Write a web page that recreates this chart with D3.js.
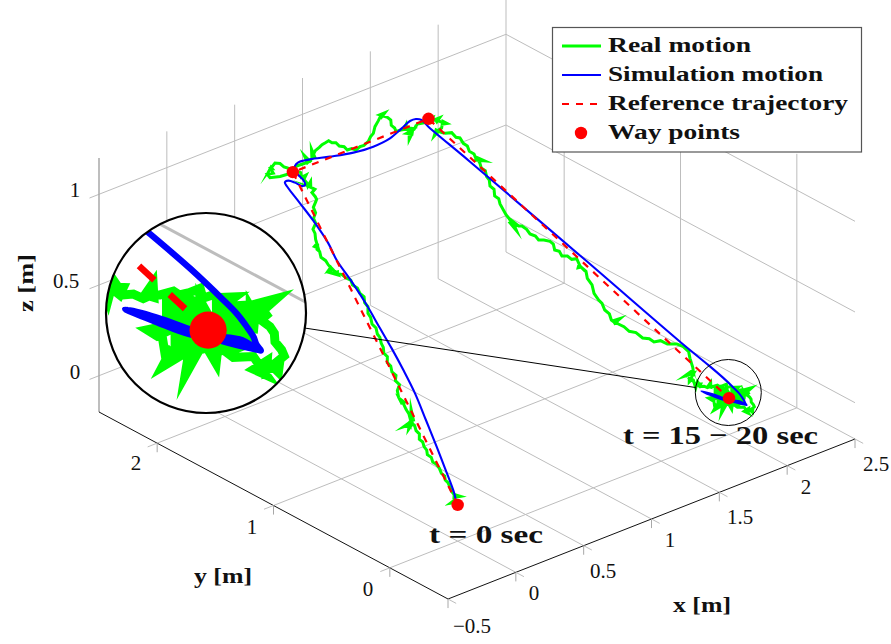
<!DOCTYPE html>
<html><head><meta charset="utf-8">
<script src="https://cdn.jsdelivr.net/npm/d3@7"></script>
<style>body{margin:0;background:#fff}svg{display:block}</style></head><body>
<script>
//tick values of the three axes (m)
var xTicks = [-0.5,0,0.5,1,1.5,2,2.5];
var yTicks = [0,1,2];
var zTicks = [0,0.5,1];
var xTickLabels = ["\u22120.5","0","0.5","1","1.5","2","2.5"];
var yTickLabels = ["0","1","2"];
var zTickLabels = ["0","0.5","1"];
var legendLabels = ["Real motion","Simulation motion","Reference trajectory","Way points"];

//way points, also the reference trajectory (m)
var wayX = [0,0.5,1.5,2];
var wayY = [0,2,2,0];
var wayZ = [0,1,1,0];

//real motion: x and y in mm, z in cm
var realX = [12,6,-32,4,12,14,50,24,21,35,34,44,44,37,54,60,47,49,39,59,
60,77,69,83,81,98,97,90,28,89,89,73,45,90,105,112,145,98,111,121,
128,141,122,116,127,146,189,188,204,199,213,210,244,241,257,266,279,280,308,294,
312,318,342,345,376,356,373,362,365,347,342,318,316,280,306,299,305,296,267,299,
303,297,289,300,307,330,323,304,321,337,353,362,407,423,462,466,507,515,530,519,
558,527,544,558,523,533,533,562,524,543,523,480,466,411,359,360,380,390,396,403,
370,424,456,461,483,507,532,570,606,648,660,681,636,704,713,761,696,766,809,842,
872,902,900,917,905,920,907,936,944,988,1015,1065,1112,1150,1210,1272,1319,1313,1363,1324,
1337,1330,1290,1283,1262,1293,1318,1322,1359,1313,1331,1320,1357,1341,1309,1305,1253,1312,1309,1292,
1355,1411,1435,1454,1484,1497,1507,1543,1501,1546,1540,1585,1537,1573,1560,1600,1585,1540,1501,1487,
1444,1501,1518,1528,1575,1585,1611,1597,1608,1603,1616,1601,1588,1649,1615,1610,1593,1603,1576,1575,
1545,1550,1529,1539,1517,1501,1500,1494,1482,1475,1505,1522,1536,1558,1550,1586,1582,1619,1649,1656,
1629,1652,1655,1693,1699,1740,1710,1714,1688,1721,1722,1701,1697,1668,1649,1666,1639,1656,1631,1641,
1634,1697,1634,1658,1675,1689,1736,1751,1788,1796,1849,1880,1949,1970,1982,1949,1918,1901,1908,1812,
1907,1848,1847,1816,1849,1863,1825,1883,1871,1892,1867,1857,1872,1903,1905,1935,1938,1960,1918,1953,
1982,1995,2029,2056,2048,2072,2080,2086,2127,2089,2097,2145,2163,2155,2210,2156,2166,2145,2140,2143,
2136,2124,2126,2094,2084,2075,2104,2062,2075,2033,2050,2055,2052,2007,1998,1968,1959,1952,1991,1962,
1922,1920,1862,1939,1871,1874,1824,1881,1855,1889,1882,1895,1857,1869,1908,1963,1975,1895,1907,2010,
2013,1929,1945,2039,2026,1967,1993,2077,2086,2005,2031,2098,2124,2047,2068,2136,2135,2099];
var realY = [28,26,25,13,45,48,35,59,73,106,123,158,163,183,220,256,269,284,306,335,
359,390,410,426,452,483,508,506,499,494,505,498,474,494,515,511,570,519,548,585,
617,621,644,612,656,689,720,755,768,797,824,850,889,915,939,967,994,1017,1061,1079,
1112,1142,1170,1202,1243,1255,1297,1326,1345,1364,1393,1405,1402,1414,1392,1417,1438,1436,1426,1424,
1465,1481,1512,1536,1567,1588,1586,1586,1573,1614,1638,1666,1695,1732,1760,1784,1811,1813,1842,1858,
1878,1889,1897,1915,1898,1919,1943,1959,1954,1983,1993,1987,1999,2006,2032,2056,2028,2062,2056,2075,
2051,2065,2059,2031,2019,2018,2033,2043,2039,2036,2039,2113,2033,2062,2060,2144,2065,2117,2133,2148,
2154,2161,2130,2116,2073,2049,2006,2003,1975,1991,1989,2010,2045,2066,2122,2165,2200,2186,2215,2214,
2163,2126,2075,2038,2002,1997,1987,1979,2028,1994,1976,1961,1965,1990,1930,1939,1878,1922,1919,1945,
1955,1992,1983,1977,1983,1983,1986,2014,1997,1989,1975,2003,1986,1963,1950,1957,1976,1934,1925,1920,
1886,1914,1908,1888,1888,1863,1859,1814,1792,1769,1744,1710,1698,1692,1722,1686,1655,1632,1589,1565,
1524,1495,1465,1442,1405,1335,1311,1281,1279,1214,1283,1251,1239,1224,1186,1181,1149,1147,1129,1109,
1066,1053,1034,1031,1001,1006,943,957,933,946,905,869,824,773,711,702,647,627,581,570,
555,580,568,552,524,495,492,452,438,407,412,390,390,358,326,276,216,191,206,164,
193,152,163,127,142,147,82,135,107,117,98,104,94,101,75,93,83,111,85,83,
78,76,88,88,71,69,55,57,70,70,46,40,41,26,48,39,26,18,-14,-23,
-33,-66,-71,-83,-82,-114,-84,-95,-82,-92,-109,-79,-69,-64,-46,-63,-51,-79,-38,-36,
-48,-39,-95,-41,-51,-38,-74,-48,-47,2,5,18,8,-7,12,76,66,-28,-38,83,
63,-36,-41,69,30,-40,-33,66,52,-43,-36,42,49,-41,-41,38,23,-14];
var realZ = [1,2,1,1,3,2,2,3,4,5,7,7,9,10,11,12,13,15,16,17,
18,19,20,22,23,24,25,26,25,25,25,26,24,25,26,26,29,26,28,29,
31,31,33,31,33,35,36,37,39,40,42,43,44,45,47,48,50,51,52,54,
56,57,59,60,61,63,64,65,67,68,69,70,71,71,70,72,72,73,72,72,
73,75,76,78,78,79,80,79,78,81,83,84,85,86,87,89,90,91,91,93,
93,95,94,96,95,96,97,98,98,99,100,100,100,100,100,101,102,103,103,103,
103,105,104,103,102,101,100,100,100,100,100,100,100,100,100,100,100,100,100,100,
100,100,100,100,100,100,100,100,100,100,100,100,100,100,100,100,100,100,100,100,
100,100,100,100,100,100,100,100,100,100,100,100,100,100,100,100,100,100,100,100,
100,100,100,100,100,100,99,99,100,98,98,98,99,97,97,96,97,96,96,97,
96,96,95,95,94,92,91,90,89,87,86,85,85,83,85,83,82,81,80,79,
78,77,75,74,73,70,69,68,68,66,68,66,66,64,63,61,60,59,58,57,
56,55,53,52,51,50,49,49,49,48,47,45,43,41,40,38,37,35,34,33,
33,33,34,32,31,29,27,25,24,23,22,20,18,17,15,14,12,11,11,12,
10,10,10,10,10,9,8,8,8,7,7,8,7,6,6,5,5,6,6,5,
5,4,3,3,2,2,1,0,0,1,0,-1,-2,-2,-2,-1,-3,-3,-3,-4,
-5,-5,-6,-6,-6,-6,-6,-6,-5,-5,-6,-5,-4,-3,-2,-1,-1,-2,-2,-1,
0,0,-1,-1,1,1,1,0,1,2,3,3,4,3,2,4,4,1,1,3,
3,0,0,2,1,-1,-2,1,0,-2,-3,0,-1,-3,-3,-1,-2,-3];

//simulation motion: x and y in mm, z in cm
var simX = [4,34,92,128,193,243,278,299,322,350,356,363,388,403,398,407,414,442,469,485,
522,525,515,526,558,601,674,781,912,1044,1181,1310,1404,1445,1461,1451,1552,1785,1981,2044,
2080,2087,2099,2093,2090,2089,2078,2049,1949,1905,1852,1903,1962,2020,2076];
var simY = [19,69,216,330,498,650,791,916,1043,1190,1326,1464,1564,1711,1819,1944,1968,1971,1945,1907,
1920,1939,1970,2012,2049,2071,2056,2008,1960,1943,1959,2009,2047,2044,2014,1944,1704,1002,399,223,
145,58,34,-2,-25,-34,-60,-33,-8,36,65,34,8,-20,-55];
var simZ = [1,3,10,17,24,32,39,46,52,59,67,74,79,86,92,97,98,98,97,96,
95,97,99,100,100,100,100,100,100,100,100,100,100,100,100,99,85,49,18,9,
4,1,-1,-2,-3,-4,-4,-2,1,3,6,4,1,-2,-4];

//limits of the box
var xLo=-0.5, xHi=2.5, yLo=-0.5, yHi=2.5, zLo=-0.2, zHi=1.2;

//each axis moves a point both across and down the page
var xAcross = d3.scaleLinear().domain([xLo,xHi]).range([0,407]);
var xDown = d3.scaleLinear().domain([xLo,xHi]).range([0,-160]);
var yAcross = d3.scaleLinear().domain([yLo,yHi]).range([0,-349]);
var yDown = d3.scaleLinear().domain([yLo,yHi]).range([0,-187]);
var zDown = d3.scaleLinear().domain([zLo,zHi]).range([0,-254]);

function P(x,y,z){
	return [448+xAcross(x)+yAcross(y), 599+xDown(x)+yDown(y)+zDown(z)];
}

var svg = d3.select("body").append("svg")
	.attr("width",891).attr("height",644).attr("viewBox","0 0 891 644");

var bigC=[206,313,100], smallC=[728.3,392.5,33];
svg.append("defs").append("clipPath").attr("id","spyClip")
	.append("circle").attr("cx",bigC[0]).attr("cy",bigC[1]).attr("r",bigC[2]);

var gridC="#bdbdbd", tickC="#a8a8a8";
function seg(g,a,b,c,w){
	return g.append("line").attr("x1",a[0]).attr("y1",a[1]).attr("x2",b[0]).attr("y2",b[1])
		.attr("stroke",c).attr("stroke-width",w);
}

var scene = svg.append("g").attr("id","scene");
var grid = scene.append("g");
xTicks.forEach(function(t){
	if(t>xLo){
		seg(grid,P(t,yLo,zLo),P(t,yHi,zLo),gridC,1);
		seg(grid,P(t,yHi,zLo),P(t,yHi,zHi),gridC,1);
	}
});
yTicks.forEach(function(t){
	seg(grid,P(xLo,t,zLo),P(xHi,t,zLo),gridC,1);
	seg(grid,P(xHi,t,zLo),P(xHi,t,zHi),gridC,1);
});
zTicks.forEach(function(t){
	seg(grid,P(xLo-0.07,yHi,t),P(xHi,yHi,t),gridC,1);
	seg(grid,P(xHi,yHi,t),P(xHi,yLo,t),gridC,1);
});
seg(grid,P(xLo,yHi,zLo),P(xLo,yHi,zHi),tickC,1.5);
seg(grid,P(xLo,yLo,zLo),P(xHi,yLo,zLo),"#111",1);
seg(grid,P(xLo,yLo,zLo),P(xLo,yHi,zLo),"#111",1);
//small tick marks on the floor edges
xTicks.forEach(function(t){
	var a=P(t,yLo,zLo);
	seg(grid,a,P(t,yLo-0.07,zLo),gridC,1);
	seg(grid,a,P(t,yLo,zLo-0.05),tickC,1);
});
yTicks.forEach(function(t){
	var a=P(xLo,t,zLo);
	seg(grid,a,P(xLo-0.07,t,zLo),gridC,1);
	seg(grid,a,P(xLo,t,zLo-0.05),tickC,1);
});

//lists of [x,y,z] in m
function toMetres(xs,ys,zs){
	return d3.zip(xs,ys,zs).map(function(d){return [d[0]/1000,d[1]/1000,d[2]/100];});
}
var line = d3.line()
	.x(function(d){return P(d[0],d[1],d[2])[0];})
	.y(function(d){return P(d[0],d[1],d[2])[1];});

scene.append("path").datum(toMetres(realX,realY,realZ))
	.attr("d",line)
	.attr("fill","none").attr("stroke","#00ff00").attr("stroke-width",3)
	.attr("stroke-linejoin","miter").attr("stroke-miterlimit",30);
scene.append("path").datum(toMetres(simX,simY,simZ))
	.attr("d",line.curve(d3.curveCatmullRom.alpha(0.5)))
	.attr("fill","none").attr("stroke","#0000ff").attr("stroke-width",2.1).attr("stroke-linecap","round");
line.curve(d3.curveLinear);
var wayPoints = d3.zip(wayX,wayY,wayZ);
scene.append("path").datum(wayPoints)
	.attr("d",line)
	.attr("fill","none").attr("stroke","#ff0000").attr("stroke-width",2.2).attr("stroke-dasharray","7,7");
scene.selectAll("circle.way").data(wayPoints).enter().append("circle")
	.attr("class","way").attr("r",6.2).attr("fill","#ff0000")
	.attr("cx",function(d){return P(d[0],d[1],d[2])[0];})
	.attr("cy",function(d){return P(d[0],d[1],d[2])[1];});

function text(s,x,y,o){
	o=o||{};
	var t=svg.append("text").text(s).attr("x",x).attr("y",y)
		.attr("font-family","'Liberation Serif'")
		.attr("font-size",o.size||21)
		.attr("font-weight",o.bold?"bold":"normal")
		.attr("fill","#111")
		.attr("text-anchor",o.anchor||"middle");
	if(o.len) t.attr("textLength",o.len).attr("lengthAdjust","spacingAndGlyphs");
	if(o.rot) t.attr("transform","rotate("+o.rot+" "+x+" "+y+")");
	return t;
}
var xLabelPos=[[472,633],[534,600],[603,578],[670,547],[740,524],[806,494],[876,471]];
var yLabelPos=[[368,596],[252,534],[136,470]];
var zLabelPos=[[75,379],[66,288],[75,197]];
xTickLabels.forEach(function(s,i){text(s,xLabelPos[i][0],xLabelPos[i][1]);});
yTickLabels.forEach(function(s,i){text(s,yLabelPos[i][0],yLabelPos[i][1]);});
zTickLabels.forEach(function(s,i){text(s,zLabelPos[i][0],zLabelPos[i][1]);});
text("x [m]",702,612,{bold:true,size:22,len:58});
text("y [m]",223,583,{bold:true,size:22,len:58});
text("z [m]",33,283,{bold:true,size:22,len:58,rot:-90});
text("t = 0 sec",486,543,{bold:true,size:26,len:114});
text("t = 15 \u2212 20 sec",720.5,444,{bold:true,size:26,len:195});

//legend
var lg=svg.append("g");
lg.append("rect").attr("x",552.5).attr("y",27.5).attr("width",309).attr("height",124.5)
	.attr("fill","#fff").attr("stroke","#555").attr("stroke-width",1.2);
var rowY=[46,75,104,133];
seg(lg,[562,rowY[0]],[601,rowY[0]],"#00ff00",3);
seg(lg,[562,rowY[1]],[601,rowY[1]],"#0000ff",2.1);
seg(lg,[562,rowY[2]],[598,rowY[2]],"#ff0000",2.2).attr("stroke-dasharray","7,7");
lg.append("circle").attr("cx",581).attr("cy",rowY[3]).attr("r",6.2).attr("fill","#ff0000");
var legendLen=[143,215,240,132];
legendLabels.forEach(function(s,i){
	text(s,608,rowY[i]+6,{bold:true,size:22,anchor:"start",len:legendLen[i]});
});

//spy: a copy of the scene, three times bigger
var spy=svg.append("g").attr("clip-path","url(#spyClip)");
spy.append("circle").attr("cx",bigC[0]).attr("cy",bigC[1]).attr("r",bigC[2]).attr("fill","#fff");
spy.append("use").attr("href","#scene")
	.attr("transform","translate("+bigC[0]+","+bigC[1]+") scale(3) translate("+(-smallC[0])+","+(-smallC[1])+")");
var ang=Math.atan2(smallC[1]-bigC[1],smallC[0]-bigC[0]);
seg(svg,
	[bigC[0]+bigC[2]*Math.cos(ang),bigC[1]+bigC[2]*Math.sin(ang)],
	[smallC[0]-smallC[2]*Math.cos(ang),smallC[1]-smallC[2]*Math.sin(ang)],"#000",1);
svg.append("circle").attr("cx",bigC[0]).attr("cy",bigC[1]).attr("r",bigC[2])
	.attr("fill","none").attr("stroke","#000").attr("stroke-width",2.2);
svg.append("circle").attr("cx",smallC[0]).attr("cy",smallC[1]).attr("r",smallC[2])
	.attr("fill","none").attr("stroke","#000").attr("stroke-width",1);
</script></body></html>
